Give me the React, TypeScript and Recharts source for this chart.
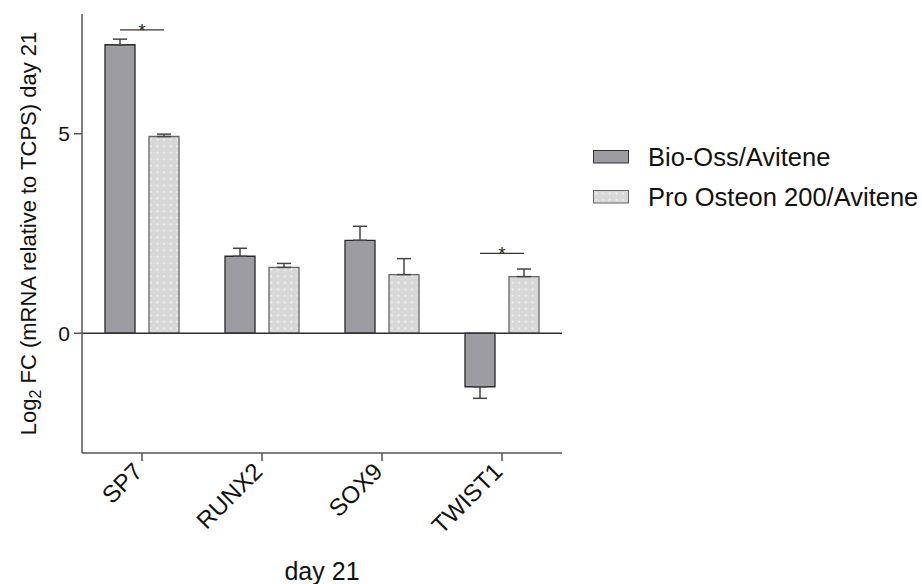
import { Bar, BarChart, ErrorBar, LabelList, ReferenceLine, XAxis, YAxis } from "recharts"

const genes = ["SP7", "RUNX2", "SOX9", "TWIST1"]
const bioOss = [7.23, 1.93, 2.33, -1.34]
const bioOssErr = [0.14, 0.2, 0.35, 0.29]
const proOsteon = [4.93, 1.65, 1.47, 1.42]
const proOsteonErr = [0.06, 0.1, 0.4, 0.19]
// height of the significance bracket, null where there is none
const sigBracket: (number | null)[] = [7.6, null, null, 2.0]
const yTicks = [0, 5]

const seriesNames = ["Bio-Oss/Avitene", "Pro Osteon 200/Avitene"]

const data = genes.map((gene, i) => ({
    gene,
    bio: bioOss[i],
    bioErr: bioOss[i] >= 0 ? [0, bioOssErr[i]] : [bioOssErr[i], 0],
    pro: proOsteon[i],
    proErr: [0, proOsteonErr[i]],
    sig: sigBracket[i],
}))

const FONT = "'Liberation Sans', Arial, sans-serif"
const AXIS = "#555"
const DARK = "#9c9ca2"
const LIGHT = "#d8d8d8"
const BAR_SIZE = 30
const BAR_GAP = 14

function GeneTick({ x, y, payload }: any) {
    const ax = x + 2
    const ay = y + 10
    return (
        <text
            x={ax}
            y={ay}
            transform={`rotate(-45 ${ax} ${ay})`}
            textAnchor="end"
            fontSize={24}
            fontFamily={FONT}
            fill="#111"
        >
            {payload.value}
        </text>
    )
}

function YLabel({ viewBox }: any) {
    const cx = 36
    const cy = viewBox.y + viewBox.height / 2
    return (
        <text
            x={cx}
            y={cy}
            transform={`rotate(-90 ${cx} ${cy})`}
            textAnchor="middle"
            fontSize={22}
            fontFamily={FONT}
            fill="#111"
        >
            Log
            <tspan fontSize={16} dy={5}>2</tspan>
            <tspan dy={-5}> FC (mRNA relative to TCPS) day 21</tspan>
        </text>
    )
}

function SigBracket(props: any) {
    const { x, y, width, height, value, index } = props
    if (value == null) return null
    const v = proOsteon[index]
    const perUnit = height / v
    const yy = y - (value - v) * perUnit
    const right = x + width / 2
    const left = right - (BAR_SIZE + BAR_GAP)
    const mid = (left + right) / 2
    return (
        <g>
            <line x1={left} x2={right} y1={yy} y2={yy} stroke="#333" strokeWidth={1.2} />
            <text x={mid} y={yy + 7} textAnchor="middle" fontSize={18} fontFamily={FONT} fill="#222">
                *
            </text>
        </g>
    )
}

function Dots({ id }: { id: string }) {
    return (
        <pattern id={id} patternUnits="userSpaceOnUse" width={6.7} height={6.5}>
            <rect width={6.7} height={6.5} fill={LIGHT} />
            <rect x={2.5} y={2.5} width={1.6} height={1.6} fill="#fafafa" />
        </pattern>
    )
}

function LegendBox() {
    const fills = [DARK, "url(#dotsLegend)"]
    const strokes = ["#333", "#666"]
    return (
        <div style={{ position: "absolute", left: 593, top: 137, fontFamily: FONT }}>
            <svg width={0} height={0} style={{ position: "absolute" }}>
                <defs>
                    <Dots id="dotsLegend" />
                </defs>
            </svg>
            {seriesNames.map((name, i) => (
                <div key={name} style={{ display: "flex", alignItems: "center", height: 40 }}>
                    <svg width={36} height={14} style={{ marginRight: 19 }}>
                        <rect x={0.5} y={0.5} width={35} height={12.5} fill={fills[i]} stroke={strokes[i]} />
                    </svg>
                    <span style={{ fontSize: 25.5, color: "#111", whiteSpace: "nowrap" }}>{name}</span>
                </div>
            ))}
        </div>
    )
}

export default function App() {
    return (
        <div style={{ position: "absolute", left: 0, top: 0, width: 922, height: 584, background: "#fff" }}>
            <BarChart
                width={922}
                height={584}
                data={data}
                margin={{ top: 14, right: 360, bottom: 0, left: 22 }}
                barSize={BAR_SIZE}
                barGap={BAR_GAP}
            >
                <defs>
                    <Dots id="dots" />
                </defs>
                <XAxis
                    dataKey="gene"
                    height={131}
                    stroke={AXIS}
                    strokeWidth={1.5}
                    tickSize={8}
                    tickLine={{ stroke: AXIS, strokeWidth: 1.5 }}
                    tick={<GeneTick />}
                    interval={0}
                    label={{ value: "day 21", position: "insideBottom", offset: 4, fontSize: 25, fontFamily: FONT, fill: "#111" }}
                />
                <YAxis
                    width={60}
                    domain={[-3, 8]}
                    ticks={yTicks}
                    stroke={AXIS}
                    strokeWidth={1.5}
                    tickSize={8}
                    tickLine={{ stroke: AXIS, strokeWidth: 1.5 }}
                    tick={{ fontSize: 21, fontFamily: FONT, fill: "#111" }}
                    tickMargin={4}
                    allowDataOverflow
                    label={<YLabel />}
                />
                <ReferenceLine y={0} stroke="#333" strokeWidth={1.5} />
                <Bar dataKey="bio" fill={DARK} stroke="#2a2a2a" strokeWidth={1.3} isAnimationActive={false}>
                    <ErrorBar dataKey="bioErr" direction="y" width={7} stroke="#444" strokeWidth={1.5} />
                </Bar>
                <Bar dataKey="pro" fill="url(#dots)" stroke="#666" strokeWidth={1.3} isAnimationActive={false}>
                    <ErrorBar dataKey="proErr" direction="y" width={7} stroke="#444" strokeWidth={1.5} />
                    <LabelList dataKey="sig" content={<SigBracket />} />
                </Bar>
            </BarChart>
            <LegendBox />
        </div>
    )
}
